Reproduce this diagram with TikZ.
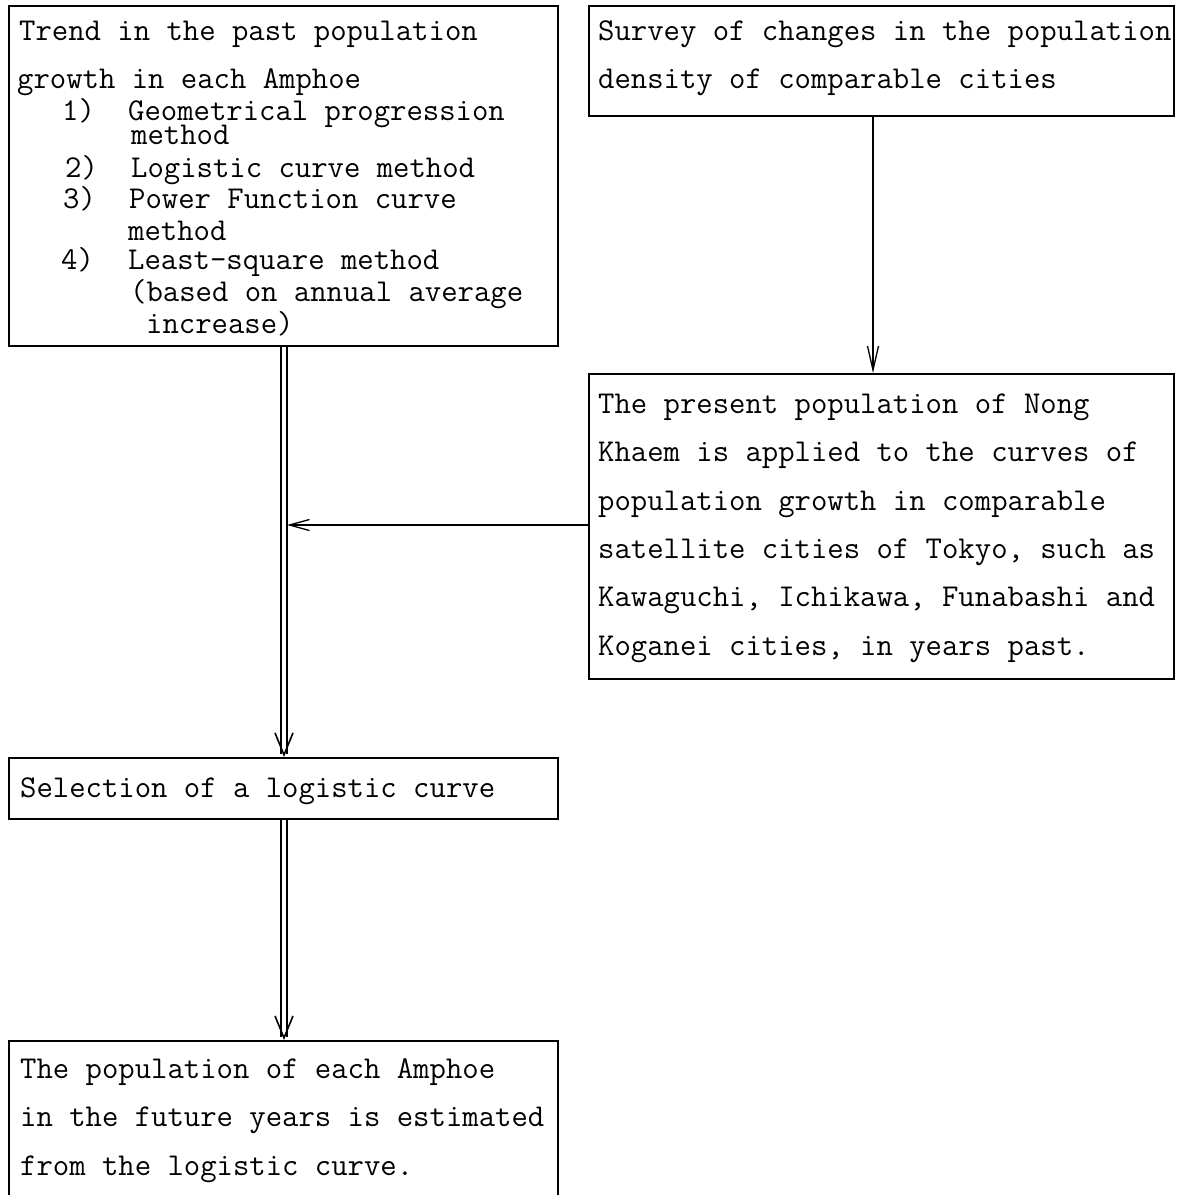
\documentclass[tikz,border=0pt]{standalone}
\usepackage{fontspec}
\setmonofont{Latin Modern Mono}
\usetikzlibrary{arrows.meta}
\tikzset{
  box/.style={draw, line width=1.8pt, rectangle, inner sep=0pt, anchor=north west},
  txt/.style={anchor=base west, inner sep=0pt, font=\fontsize{31.8}{31.8}\selectfont\ttfamily},
  sarrow/.style={line width=1.3pt, -{Straight Barb[length=24pt, width=11pt, line width=1.3pt]}},
  darrow/.style={double=white, double distance=4.5pt, line width=1.5pt,
     -{Straight Barb[length=22pt, width=18pt, line width=1.6pt]}},
}
\begin{document}
\begin{tikzpicture}[x=1pt, y=-1pt]
\useasboundingbox (0,0) rectangle (1181,1195);
\clip (0,0) rectangle (1181,1195);
\fill[white] (0,0) rectangle (1181,1195);

% boxes
\node[box, minimum width=549pt, minimum height=340pt] (A) at (8,5) {};
\node[box, minimum width=585pt, minimum height=110pt] (B) at (588,5) {};
\node[box, minimum width=585pt, minimum height=305pt] (C) at (588,373) {};
\node[box, minimum width=549pt, minimum height=61pt] (D) at (8,757) {};
\node[box, minimum width=549pt, minimum height=170pt] (E) at (8,1040) {};

% box A text
\node[txt] (a1) at (19,40) {Trend in the past population};
\node[txt] (a2) at (17,88) {growth in each Amphoe};
\node[txt] (a3n) at (62,120) {1)};
\node[txt] (a3) at (128,120) {Geometrical progression};
\node[txt] (a4) at (131,144) {method};
\node[txt] (a5n) at (65,177) {2)};
\node[txt] (a5) at (131,177) {Logistic curve method};
\node[txt] (a6n) at (63,208) {3)};
\node[txt] (a6) at (129,208) {Power Function curve};
\node[txt] (a7) at (128,240) {method};
\node[txt] (a8n) at (61,269) {4)};
\node[txt] (a8) at (128,269) {Least-square method};
\node[txt] (a9) at (130,301) {(based on annual average};
\node[txt] (a10) at (146,333) {increase)};

% box B text
\node[txt] (b1) at (598,40) {Survey of changes in the population};
\node[txt] (b2) at (598,88) {density of comparable cities};

% box C text
\node[txt] (c1) at (598,413) {The present population of Nong};
\node[txt] (c2) at (598,461) {Khaem is applied to the curves of};
\node[txt] (c3) at (598,510) {population growth in comparable};
\node[txt] (c4) at (598,558) {satellite cities of Tokyo, such as};
\node[txt] (c5) at (598,606) {Kawaguchi, Ichikawa, Funabashi and};
\node[txt] (c6) at (598,655) {Koganei cities, in years past.};

% box D text
\node[txt] (d1) at (20,797) {Selection of a logistic curve};

% box E text
\node[txt] (e1) at (20,1078) {The population of each Amphoe};
\node[txt] (e2) at (20,1126) {in the future years is estimated};
\node[txt] (e3) at (20,1175) {from the logistic curve.};

% connectors
\coordinate (ax) at (284,0);
\coordinate (bx) at (873,0);
\draw[darrow] (A.south -| ax) -- (D.north -| ax);
\draw[darrow] (D.south -| ax) -- (E.north -| ax);
\draw[sarrow] (B.south -| bx) -- (C.north -| bx);
\coordinate (mid) at (287,525);
\draw[sarrow, -{Straight Barb[length=20pt, width=11pt, line width=1.3pt]}] (C.west |- mid) -- (mid);
\end{tikzpicture}
\end{document}
